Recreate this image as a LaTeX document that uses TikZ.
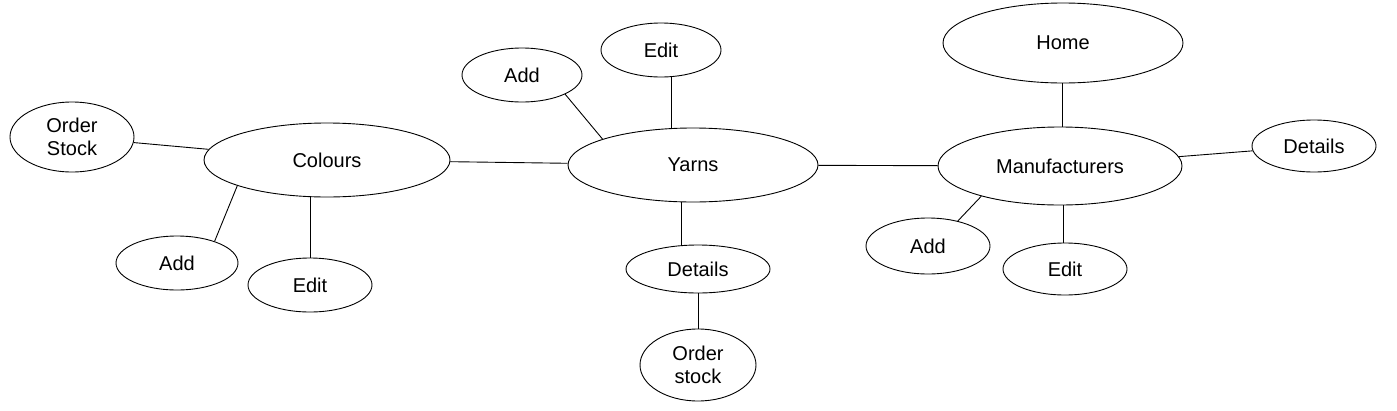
\documentclass[tikz,border=0pt]{standalone}
\usepackage{fontspec}
\setmainfont{Liberation Sans}
\usetikzlibrary{shapes.geometric}
\begin{document}
\begin{tikzpicture}[x=1pt,y=-1pt,
  bub/.style={draw=black,line width=0.9pt,ellipse,inner sep=0pt,align=center,
    font=\fontsize{20}{23}\selectfont},
  link/.style={draw=black,line width=0.9pt}]
\useasboundingbox (0,0) rectangle (1397,410);
\fill[white] (0,0) rectangle (1397,410);
% nodes
\node[bub,minimum width=124,minimum height=70] (ostock) at (72,137) {Order\\Stock};
\node[bub,minimum width=246,minimum height=74] (colours) at (327,160) {Colours};
\node[bub,minimum width=122,minimum height=54] (cadd) at (177,263) {Add};
\node[bub,minimum width=124,minimum height=54] (cedit) at (310,285) {Edit};
\node[bub,minimum width=120,minimum height=54] (yadd) at (522,75) {Add};
\node[bub,minimum width=120,minimum height=54] (yedit) at (661,50) {Edit};
\node[bub,minimum width=250,minimum height=74] (yarns) at (693,165) {Yarns};
\node[bub,minimum width=144,minimum height=48] (ydet) at (698,269) {Details};
\node[bub,minimum width=116,minimum height=72] (yord) at (698,365) {Order\\stock};
\node[bub,minimum width=240,minimum height=80] (home) at (1063,43) {Home};
\node[bub,minimum width=244,minimum height=78] (manu) at (1060,166) {Manufacturers};
\node[bub,minimum width=124,minimum height=52] (mdet) at (1314,146) {Details};
\node[bub,minimum width=124,minimum height=56] (madd) at (928,246) {Add};
\node[bub,minimum width=124,minimum height=52] (medit) at (1065,269) {Edit};
% connectors
\draw[link] (ostock) -- (colours);
\draw[link] (colours.196) -- (cadd.30);
\draw[link] (colours.south -| cedit) -- (cedit);
\draw[link] (colours) -- (yarns);
\draw[link] (yadd.-24) -- (yarns.164);
\draw[link] (yedit.south -| 671,0) -- (yarns.north -| 671,0);
\draw[link] (yarns.south -| 681,0) -- (ydet.north -| 681,0);
\draw[link] (ydet) -- (yord);
\draw[link] (yarns) -- (manu);
\draw[link] (home.south -| 1062,0) -- (manu.north -| 1062,0);
\draw[link] (manu) -- (mdet);
\draw[link] (manu.201) -- (madd.40);
\draw[link] (manu.south -| 1063,0) -- (medit.north -| 1063,0);
\end{tikzpicture}
\end{document}
